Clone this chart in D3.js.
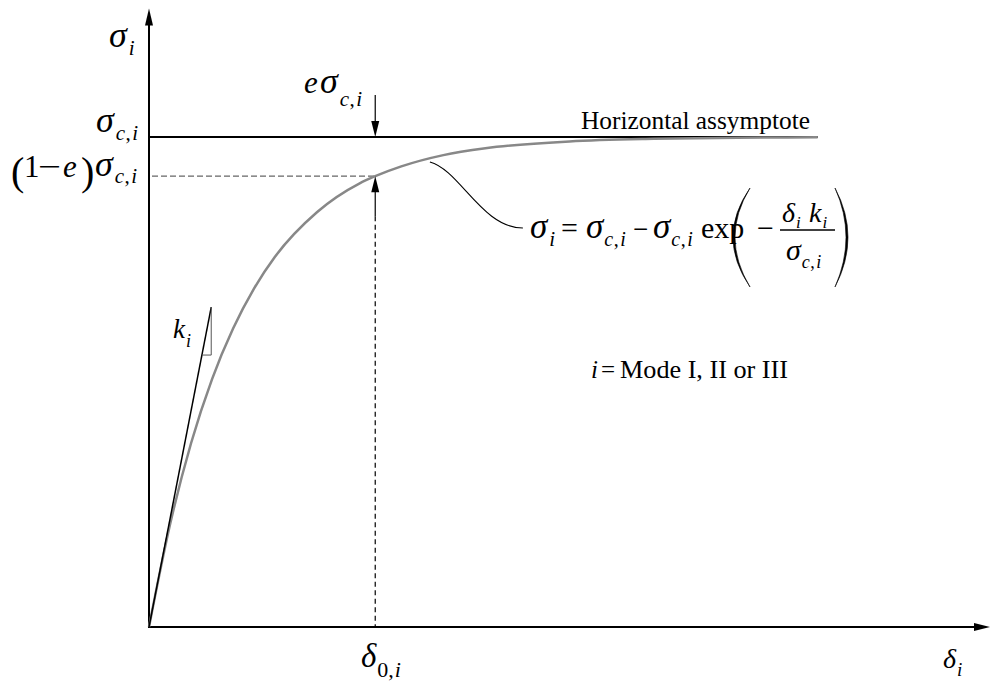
<!DOCTYPE html>
<html>
<head>
<meta charset="utf-8">
<script src="https://cdn.jsdelivr.net/npm/d3@7"></script>
<style>
  html, body { margin: 0; padding: 0; background: #fff; }
  svg { display: block; }
  text { font-family: "Liberation Serif", "Times New Roman", serif; fill: #000; }
</style>
</head>
<body>
<svg id="chart" width="992" height="686"></svg>
<script>
// Exponential softening law: traction sigma_i versus opening delta_i
const delta = [0, 0.25, 0.5, 0.75, 1, 1.25, 1.5, 2, 2.5, 2.69, 3, 3.5, 4, 5, 6, 7, 7.95];
const sigma = [0, 0.209, 0.375, 0.506, 0.609, 0.691, 0.756, 0.847, 0.905, 0.92, 0.94, 0.963, 0.977, 0.991, 0.9964, 0.9986, 0.9994];
const sigmaC = 1;          // horizontal asymptote
const eFrac = 0.08;        // fraction e
const delta0 = 2.69;       // opening where sigma = (1 - e) sigma_c
const asymptoteEnd = 7.95;
const axisMax = { delta: 10, sigma: 1.262 };
const stiffness = { end: [0.74, 0.653], corner: [0.74, 0.555], foot: [0.629, 0.555] };
const leaderStart = [3.34, 0.949];

const svg = d3.select("#chart");
const x = d3.scaleLinear().domain([0, axisMax.delta]).range([149, 990]);
const y = d3.scaleLinear().domain([0, sigmaC]).range([627, 137]);

const pts = delta.map((d, i) => [d, sigma[i]]);

// axes
svg.append("line").attr("x1", x(0)).attr("y1", y(0)).attr("x2", x(axisMax.delta) - 10).attr("y2", y(0))
  .attr("stroke", "#000").attr("stroke-width", 2);
svg.append("line").attr("x1", x(0)).attr("y1", y(0) + 1).attr("x2", x(0)).attr("y2", y(axisMax.sigma) + 10)
  .attr("stroke", "#000").attr("stroke-width", 2);
const xt = x(axisMax.delta), x0y = y(0);
svg.append("path").attr("d", `M${xt},${x0y} L${xt - 16},${x0y - 4} L${xt - 16},${x0y + 4} Z`).attr("fill", "#000");
const yt = y(axisMax.sigma), y0x = x(0);
svg.append("path").attr("d", `M${y0x},${yt} L${y0x - 4},${yt + 17} L${y0x + 4},${yt + 17} Z`).attr("fill", "#000");

// horizontal asymptote
svg.append("line").attr("x1", x(0)).attr("x2", x(asymptoteEnd)).attr("y1", y(sigmaC)).attr("y2", y(sigmaC))
  .attr("stroke", "#000").attr("stroke-width", 2);

// dashed guides at (delta0, (1-e) sigma_c)
const ye = y(sigmaC * (1 - eFrac));
svg.append("line").attr("x1", x(0) + 3).attr("x2", x(delta0)).attr("y1", ye).attr("y2", ye)
  .attr("stroke", "#666").attr("stroke-width", 1.2).attr("stroke-dasharray", "6,3");
svg.append("line").attr("x1", x(delta0)).attr("x2", x(delta0)).attr("y1", ye + 40).attr("y2", y(0))
  .attr("stroke", "#000").attr("stroke-width", 1.2).attr("stroke-dasharray", "5,3.5");
svg.append("line").attr("x1", x(delta0)).attr("x2", x(delta0)).attr("y1", ye + 10).attr("y2", ye + 40)
  .attr("stroke", "#000").attr("stroke-width", 1.2);

// softening curve
svg.append("path").datum(pts)
  .attr("d", d3.line().x(d => x(d[0])).y(d => y(d[1])).curve(d3.curveMonotoneX))
  .attr("fill", "none").attr("stroke", "#888").attr("stroke-width", 2.5);

// initial stiffness k_i with slope triangle
svg.append("line").attr("x1", x(0)).attr("y1", y(0)).attr("x2", x(stiffness.end[0])).attr("y2", y(stiffness.end[1]))
  .attr("stroke", "#000").attr("stroke-width", 1.5);
svg.append("path")
  .attr("d", `M${x(stiffness.foot[0])},${y(stiffness.foot[1])} L${x(stiffness.corner[0])},${y(stiffness.corner[1])} L${x(stiffness.end[0])},${y(stiffness.end[1])}`)
  .attr("fill", "none").attr("stroke", "#555").attr("stroke-width", 1);

// e sigma_c arrow (down onto asymptote) and arrow up onto the curve
const ax = x(delta0);
svg.append("line").attr("x1", ax).attr("x2", ax).attr("y1", 95).attr("y2", y(sigmaC) - 12).attr("stroke", "#000").attr("stroke-width", 1.2);
svg.append("path").attr("d", `M${ax},${y(sigmaC)} L${ax - 4},${y(sigmaC) - 16} L${ax + 4},${y(sigmaC) - 16} Z`).attr("fill", "#000");
svg.append("path").attr("d", `M${ax},${ye} L${ax - 4},${ye + 16} L${ax + 4},${ye + 16} Z`).attr("fill", "#000");

// leader from curve to formula
const ls = [x(leaderStart[0]), y(leaderStart[1])];
svg.append("path")
  .attr("d", `M${ls[0]},${ls[1]} C${ls[0] + 30},${ls[1] + 8} ${ls[0] + 52},${ls[1] + 66} ${ls[0] + 93},${ls[1] + 66}`)
  .attr("fill", "none").attr("stroke", "#000").attr("stroke-width", 1.1);

// text helpers
function t(str, px, py, size, italic, opts = {}) {
  const el = svg.append("text").attr("x", px).attr("y", py).attr("font-size", size)
    .attr("font-style", italic ? "italic" : "normal").text(str);
  if (opts.len) el.attr("textLength", opts.len).attr("lengthAdjust", "spacingAndGlyphs");
  return el;
}
// symbol followed by a subscript made of italic / roman pieces
function sym(str, px, py, size, sub, subSize, shift, gap = 1) {
  const el = t(str, px, py, size, true);
  let cx = px + el.node().getComputedTextLength() + gap;
  sub.forEach(([s, it, g]) => {
    cx += g || 0;
    const se = t(s, cx, py + shift, subSize, it);
    cx += se.node().getComputedTextLength();
  });
  return cx;
}
const CI = [["c", true, 0], [",", false, 0.5], ["i", true, 1.5]];
const I = [["i", true, 0]];

// y-axis labels
sym("σ", 109, 47, 36, I, 21, 8, 2);
const yc = y(sigmaC);
sym("σ", 96, yc - 5, 36, CI, 21, 8, 2);
t("(", 11, ye + 9, 40, false); t("1", 24, ye + 1, 31, false);
t("−", 38, ye + 1, 31, false, { len: 23 });
t("e", 63, ye + 1, 31, true); t(")", 81, ye + 9, 40, false);
sym("σ", 95, ye, 36, CI, 21, 7, 2);

// e sigma_c,i label
t("e", 304, 93, 31, true);
sym("σ", 320, 93, 36, CI, 21, 13, 2);

// k_i
sym("k", 173, 338, 27, I, 18, 9, 1);

// x-axis labels
sym("δ", 361, 667, 33, [["0,", false, 0], ["i", true, 1]], 22, 10, 1);
sym("δ", 943, 668, 28, I, 19, 8, 1);

// asymptote label
t("Horizontal assymptote", 581, 129, 26, false, { len: 229 });

// formula
sym("σ", 530, 238, 35, I, 21, 8, 2);
t("=", 561, 238, 30, false);
sym("σ", 586, 238, 35, CI, 20, 8, 1);
t("−", 633, 238, 27, false);
sym("σ", 653, 238, 35, CI, 20, 8, 1);
t("exp", 701, 238, 30, false);
svg.append("path").attr("d", "M750,188 Q716,237 750,287 Q720,237 750,188 Z").attr("fill", "#000").attr("stroke", "#000").attr("stroke-width", 0.6);
svg.append("path").attr("d", "M835,188 Q861,237 835,287 Q857,237 835,188 Z").attr("fill", "#000").attr("stroke", "#000").attr("stroke-width", 0.6);
t("−", 757, 238, 30, false);
svg.append("line").attr("x1", 780).attr("x2", 835).attr("y1", 230).attr("y2", 230).attr("stroke", "#000").attr("stroke-width", 1.3);
sym("δ", 782, 222, 28, I, 17, 6, 1);
sym("k", 809, 222, 28, I, 17, 6, 1);
sym("σ", 786, 260, 30, CI, 18, 8, 1);

// mode note
t("i", 591, 378, 25, true); t("=", 601, 378, 25, false);
t("Mode I, II or III", 620, 378, 25, false, { len: 168 });
</script>
</body>
</html>
